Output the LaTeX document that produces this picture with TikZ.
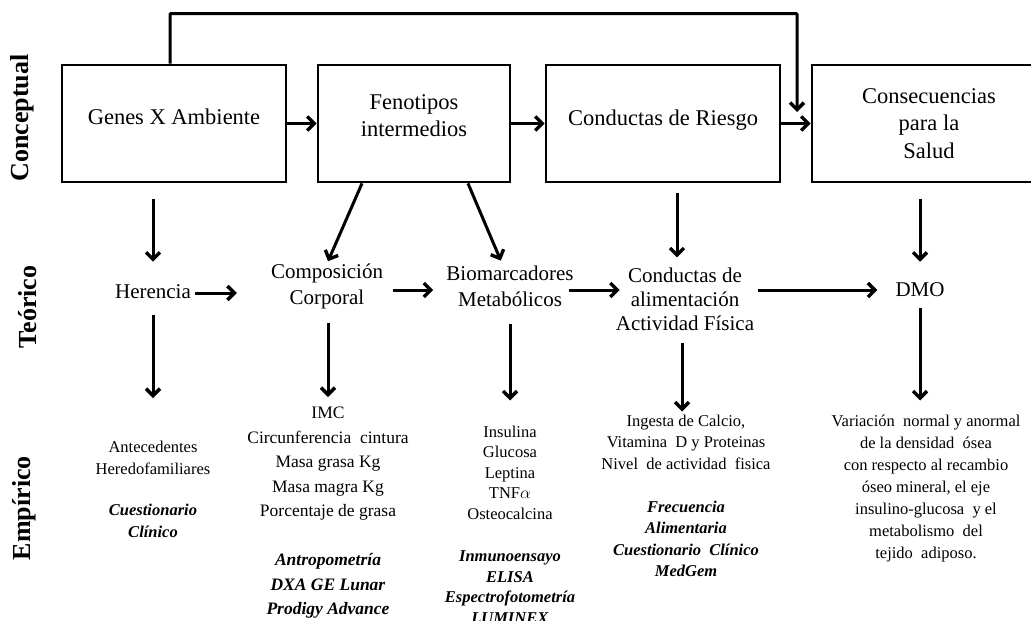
\documentclass[tikz,border=0pt]{standalone}
\usepackage{fontspec}
\setmainfont{Liberation Serif}
\usetikzlibrary{arrows.meta}
\tikzset{
    cajaConcepto/.style={draw, line width=2.8pt, minimum height=117pt, inner sep=0pt,
        align=center, font=\fontsize{22.5}{27.5}\selectfont},
    textoTeorico/.style={align=center, inner sep=2pt, font=\fontsize{21}{26}\selectfont},
    textoEmpirico/.style={align=center, inner sep=0pt, anchor=north},
    nivel/.style={rotate=90, inner sep=0pt, font=\bfseries\fontsize{26}{30}\selectfont},
    flecha/.style={line width=3pt, -{Straight Barb[length=7pt,width=14pt,line width=3.4pt]}}
}
\newcommand{\metodo}[1]{\textbf{\textit{#1}}}

\begin{document}
\begin{tikzpicture}[x=1pt, y=-1pt]
    \clip (0,0) rectangle (1031,621);
    % niveles
    \node[nivel] (nConceptual) at (22,118) {Conceptual};
    \node[nivel] (nTeorico) at (28,307) {Teórico};
    \node[nivel] (nEmpirico) at (24,508) {Empírico};
    % nivel conceptual
    \node[cajaConcepto, minimum width=224pt, text depth=13pt] (genes) at (174,123.5) {Genes X Ambiente};
    \node[cajaConcepto, minimum width=192pt, text depth=16pt] (fenotipos) at (414,123.5) {Fenotipos\\intermedios};
    \node[cajaConcepto, minimum width=234pt, text depth=11pt] (riesgo) at (663,123.5) {Conductas de Riesgo};
    \node[cajaConcepto, minimum width=234pt] (salud) at (929,123.5) {Consecuencias\\para la\\Salud};
    \coordinate (llegada) at (797,112);
    \draw[flecha] (genes) -- (fenotipos);
    \draw[flecha] (fenotipos) -- (riesgo);
    \draw[flecha] (riesgo) -- (salud);
    \draw[flecha, rounded corners=1pt] ([xshift=-4pt]genes.north) -- ++(0,-50) -| (llegada);
    % nivel teorico
    \node[textoTeorico] (herencia) at (153,292) {Herencia};
    \node[textoTeorico] (composicion) at (327,286) {Composición\\Corporal};
    \node[textoTeorico] (biomarcadores) at (510,286) {Biomarcadores\\Metabólicos};
    \node[textoTeorico, font=\fontsize{21}{24}\selectfont] (alimentacion) at (685,299) {Conductas de\\alimentación\\Actividad Física};
    \node[textoTeorico] (dmo) at (920,290) {DMO};
    \draw[flecha, shorten <=16pt, shorten >=21pt] (herencia |- genes.south) -- (herencia);
    \draw[flecha] ([xshift=-52pt]fenotipos.south) -- ([xshift=1pt]composicion.north);
    \draw[flecha, shorten >=3pt] ([xshift=54pt]fenotipos.south) -- ([xshift=-8pt]biomarcadores.north);
    \draw[flecha, shorten <=10pt, shorten >=8pt] ([xshift=-8pt]alimentacion.north |- riesgo.south) -- ([xshift=-8pt]alimentacion.north);
    \draw[flecha, shorten <=16pt, shorten >=19pt] (dmo |- salud.south) -- (dmo);
    \draw[flecha, shorten <=2pt, shorten >=32pt] ([yshift=-1pt]herencia.east) -- ([yshift=-1pt]herencia.east -| composicion.west);
    \draw[flecha, shorten <=8pt, shorten >=11pt] (composicion.east |- 0,290) -- (biomarcadores.west |- 0,290);
    \draw[flecha, shorten <=-7pt, shorten >=-6pt] (biomarcadores.east |- 0,290) -- (alimentacion.west |- 0,290);
    \draw[flecha, shorten <=2pt, shorten >=16pt] (alimentacion.east |- 0,290) -- (dmo.west |- 0,290);
    % nivel empirico
    \node[textoEmpirico, font=\fontsize{16.5}{21.5}\selectfont] (antecedentes) at (153,441) {Antecedentes\\Heredofamiliares\\[20pt]\metodo{Cuestionario}\\\metodo{Clínico}};
    \node[textoEmpirico, font=\fontsize{17.5}{24.5}\selectfont] (medidas) at (328,407) {IMC\\Circunferencia\ \ cintura\\Masa grasa Kg\\Masa magra Kg\\Porcentaje de grasa\\[24.5pt]\metodo{Antropometría}\\\metodo{DXA GE Lunar}\\\metodo{Prodigy Advance}};
    \node[textoEmpirico, font=\fontsize{16.5}{20.5}\selectfont] (analitos) at (510,425.5) {Insulina\\Glucosa\\Leptina\\TNF$\alpha$\\Osteocalcina\\[22pt]\metodo{Inmunoensayo}\\\metodo{ELISA}\\\metodo{Espectrofotometría}\\\metodo{LUMINEX}};
    \node[textoEmpirico, font=\fontsize{16.5}{21.5}\selectfont] (ingesta) at (686,414.5) {Ingesta de Calcio,\\Vitamina\ \ D y Proteinas\\Nivel\ \ de actividad\ \ fisica\\[21.5pt]\metodo{Frecuencia}\\\metodo{Alimentaria}\\\metodo{Cuestionario\ \ Clínico}\\\metodo{MedGem}};
    \node[textoEmpirico, font=\fontsize{16.5}{22}\selectfont] (densidad) at (926,414.5) {Variación\ \ normal y anormal\\de la densidad\ \ ósea\\con respecto al recambio\\óseo mineral,\ el eje\\insulino-glucosa\ \ y el\\metabolismo\ \ del\\tejido\ \ adiposo.};
    \draw[flecha, shorten <=14pt, shorten >=43pt] (herencia) -- (herencia |- antecedentes.north);
    \draw[flecha, shorten <=12pt, shorten >=10pt] (composicion.south -| medidas) -- (medidas.north);
    \draw[flecha, shorten <=15pt, shorten >=25pt] (biomarcadores.south) -- (biomarcadores.south |- analitos.north);
    \draw[flecha, shorten <=10pt, shorten >=3pt] ([xshift=-3pt]alimentacion.south) -- ([xshift=-3pt]alimentacion.south |- ingesta.north);
    \draw[flecha, shorten <=9pt, shorten >=14pt] (dmo.south) -- (dmo.south |- densidad.north);
\end{tikzpicture}
\end{document}
